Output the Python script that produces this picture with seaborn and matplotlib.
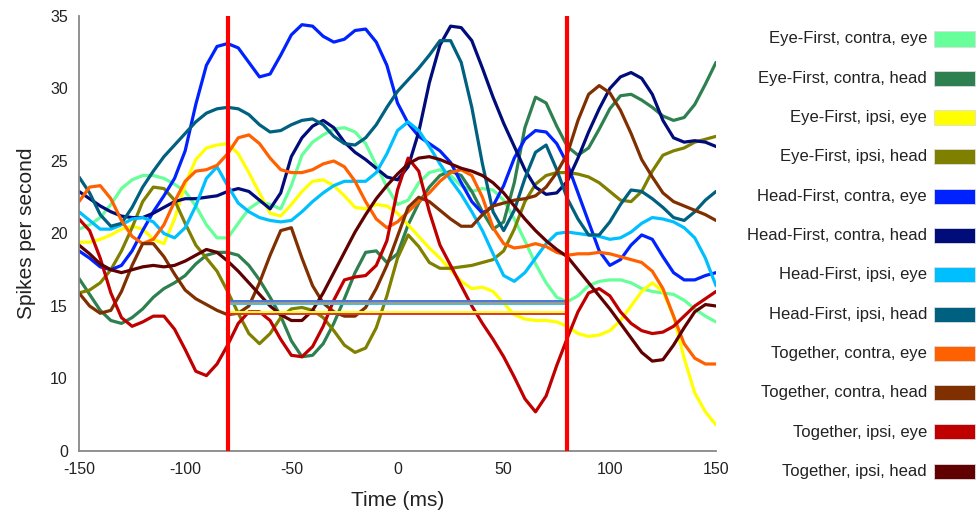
import numpy as np
import pandas as pd
import matplotlib
matplotlib.use("Agg")
import matplotlib.pyplot as plt
import matplotlib.patches as mpatches
import seaborn as sns

# ---------------- data ----------------
time_ms = list(range(-150, 151, 5))

series_names = [
    "Eye-First, contra, eye", "Eye-First, contra, head",
    "Eye-First, ipsi, eye", "Eye-First, ipsi, head",
    "Head-First, contra, eye", "Head-First, contra, head",
    "Head-First, ipsi, eye", "Head-First, ipsi, head",
    "Together, contra, eye", "Together, contra, head",
    "Together, ipsi, eye", "Together, ipsi, head",
]
series_colors = [
    "#66FF99", "#2E8050", "#FFFF00", "#808000",
    "#0022FF", "#000C7A", "#00BFFF", "#006080",
    "#FF6000", "#803000", "#C00000", "#600000",
]

ef_contra_eye = [20.3, 20.6, 21.1, 22.0, 23.1, 23.7, 24.0, 24.0, 23.8, 23.4, 22.9, 21.9, 20.6, 19.7, 19.7,
                 20.7, 21.7, 22.2, 22.0, 21.7, 23.3, 25.4, 26.3, 26.8, 27.2, 27.3, 27.0, 26.2, 24.7, 23.2,
                 22.0, 22.3, 23.5, 24.2, 24.4, 24.0, 23.3, 22.9, 23.1, 23.0, 22.3, 21.0, 19.5, 17.9, 16.6,
                 15.6, 15.3, 15.7, 16.4, 16.7, 16.8, 16.8, 16.6, 16.2, 16.0, 15.9, 15.8, 15.4, 14.8, 14.3, 13.9]
ef_contra_head = [16.9, 15.8, 14.7, 14.0, 13.8, 14.2, 14.8, 15.6, 16.2, 16.6, 17.1, 17.9, 18.5, 18.7, 18.7,
                  18.5, 17.8, 16.8, 15.6, 14.3, 12.6, 11.5, 11.6, 12.4, 13.8, 15.5, 17.3, 18.7, 18.8, 18.0,
                  18.6, 20.6, 22.1, 23.2, 24.0, 24.3, 24.0, 22.9, 21.5, 20.3, 20.8, 23.5, 27.3, 29.4, 29.0,
                  27.4, 26.0, 25.4, 25.9, 27.2, 28.6, 29.5, 29.6, 29.2, 28.7, 28.1, 27.8, 28.0, 28.9, 30.3, 31.8]
ef_ipsi_eye = [19.4, 19.4, 19.6, 19.9, 20.3, 20.5, 20.3, 19.6, 19.3, 21.0, 23.4, 25.1, 25.9, 26.1, 26.2,
               25.5, 24.2, 22.8, 21.4, 21.2, 22.0, 22.9, 23.6, 23.7, 23.3, 22.6, 21.8, 21.7, 22.0, 21.9,
               21.4, 20.6, 19.8, 19.0, 18.3, 17.5, 16.7, 16.2, 16.3, 16.0, 15.2, 14.4, 14.1, 14.0, 14.0,
               13.9, 13.6, 13.1, 12.9, 13.0, 13.3, 14.0, 15.0, 16.0, 16.6, 16.0, 14.3, 11.4, 9.0, 7.7, 6.8]
ef_ipsi_head = [15.9, 16.1, 16.6, 17.5, 18.8, 20.4, 22.2, 23.2, 23.1, 22.3, 20.7, 19.2, 18.3, 17.4, 16.0,
                14.5, 13.1, 12.4, 13.1, 14.2, 14.8, 14.9, 14.7, 14.2, 13.3, 12.3, 11.8, 12.1, 13.5, 15.7,
                18.3, 19.9, 19.1, 18.0, 17.6, 17.6, 17.7, 17.8, 18.0, 18.2, 18.8, 20.3, 22.2, 23.4, 24.0,
                24.2, 24.2, 24.1, 23.9, 23.5, 22.9, 22.3, 22.2, 22.9, 24.3, 25.4, 25.7, 25.9, 26.3, 26.5, 26.7]
hf_contra_eye = [18.8, 18.3, 17.7, 17.5, 17.8, 18.8, 20.2, 21.5, 22.6, 23.8, 25.7, 28.9, 31.6, 32.9, 33.1,
                 32.8, 31.8, 30.8, 31.0, 32.3, 33.7, 34.4, 34.3, 33.6, 33.2, 33.4, 34.0, 34.1, 33.2, 31.6,
                 29.0, 27.6, 26.7, 26.2, 25.7, 24.9, 23.5, 22.2, 21.4, 21.9, 23.3, 25.2, 26.5, 27.1, 27.0,
                 26.2, 24.8, 22.8, 20.8, 18.8, 17.8, 18.2, 19.2, 19.9, 19.6, 18.4, 17.3, 16.8, 16.8, 17.1, 17.3]
hf_contra_head = [22.9, 22.4, 21.9, 21.5, 21.2, 21.1, 21.1, 21.4, 21.8, 22.2, 22.4, 22.4, 22.5, 22.6, 22.9,
                  23.1, 22.9, 22.3, 21.7, 22.8, 25.3, 26.6, 27.4, 27.8, 27.3, 26.3, 25.6, 25.1, 24.5, 23.9,
                  23.7, 24.6, 27.0, 30.4, 33.0, 34.3, 34.2, 33.3, 31.4, 29.4, 27.6, 26.0, 24.4, 23.2, 22.7,
                  22.8, 23.6, 25.2, 27.0, 28.6, 30.0, 30.8, 31.1, 30.7, 29.6, 27.8, 26.6, 26.3, 26.4, 26.3, 26.0]
hf_ipsi_eye = [21.5, 20.9, 20.3, 20.3, 20.6, 21.0, 21.1, 20.8, 20.0, 19.7, 20.4, 21.9, 23.8, 24.6, 23.3,
               22.1, 21.5, 21.1, 20.9, 20.8, 20.9, 21.5, 22.2, 22.8, 23.3, 23.6, 23.6, 23.6, 24.2, 25.5,
               27.1, 27.7, 27.1, 26.0, 24.8, 23.7, 22.7, 21.5, 20.2, 18.6, 17.1, 16.7, 17.3, 18.3, 19.3,
               20.0, 20.1, 20.0, 19.9, 19.8, 19.6, 19.7, 20.1, 20.7, 21.1, 21.0, 20.8, 20.4, 19.7, 18.3, 16.4]
hf_ipsi_head = [23.9, 22.8, 21.3, 20.5, 20.7, 21.8, 23.2, 24.3, 25.3, 26.1, 26.9, 27.7, 28.3, 28.6, 28.7,
                28.6, 28.2, 27.5, 27.0, 27.1, 27.5, 27.8, 27.9, 27.5, 26.7, 26.2, 26.1, 26.6, 27.5, 28.7,
                29.8, 30.6, 31.4, 32.3, 33.3, 33.3, 31.8, 28.7, 24.8, 21.5, 20.2, 21.6, 23.8, 25.6, 26.1,
                24.4, 22.4, 21.0, 19.9, 19.9, 20.8, 22.0, 23.0, 22.9, 22.4, 21.8, 21.1, 20.9, 21.5, 22.3, 22.9]
tg_contra_eye = [22.2, 23.2, 23.3, 22.4, 20.9, 19.8, 19.3, 19.6, 20.6, 22.2, 23.6, 24.3, 24.4, 24.7, 25.5,
                 26.6, 26.8, 26.2, 25.2, 24.4, 24.2, 24.2, 24.4, 24.8, 25.0, 24.6, 23.6, 22.2, 21.0, 20.4,
                 20.8, 21.5, 22.2, 22.8, 23.6, 24.2, 24.4, 24.0, 22.5, 20.4, 19.3, 19.0, 19.1, 19.3, 19.1,
                 18.7, 18.5, 18.6, 18.6, 18.7, 18.6, 18.4, 18.2, 18.0, 17.4, 16.2, 14.3, 12.4, 11.4, 11.0, 11.0]
tg_contra_head = [15.9, 15.0, 14.5, 14.7, 16.0, 17.8, 19.3, 19.3, 18.4, 17.2, 16.1, 15.5, 15.1, 14.7, 14.4,
                  14.5, 15.0, 16.6, 18.5, 20.2, 20.4, 18.3, 16.4, 15.2, 14.6, 14.3, 14.3, 14.9, 16.2, 17.8,
                  19.8, 21.8, 22.5, 22.2, 21.6, 21.0, 20.5, 20.5, 21.3, 21.9, 22.1, 22.3, 22.4, 22.6, 23.2,
                  24.2, 25.5, 27.8, 29.6, 30.2, 29.7, 28.5, 26.9, 25.1, 23.9, 22.8, 22.2, 21.9, 21.6, 21.3, 20.9]
tg_ipsi_eye = [21.0, 20.2, 18.3, 15.9, 14.2, 13.6, 13.9, 14.3, 14.3, 13.4, 12.0, 10.5, 10.2, 11.0, 12.3,
               13.8, 14.6, 14.6, 14.0, 12.7, 11.6, 11.5, 12.2, 13.6, 15.4, 16.8, 17.0, 17.1, 17.8, 19.5,
               23.0, 25.2, 24.3, 21.5, 19.2, 17.8, 16.4, 15.0, 13.8, 12.7, 11.5, 10.1, 8.6, 7.7, 8.8,
               10.9, 12.8, 14.6, 15.9, 16.2, 15.7, 14.6, 13.8, 13.3, 13.1, 13.2, 13.6, 14.3, 15.0, 15.5, 16.0]
tg_ipsi_head = [19.2, 18.6, 17.9, 17.5, 17.3, 17.5, 17.7, 17.8, 17.7, 17.8, 18.1, 18.5, 18.9, 18.7, 18.1,
                17.4, 16.6, 15.8, 15.0, 14.4, 14.0, 14.0, 14.7, 15.9, 17.3, 18.7, 20.1, 21.3, 22.4, 23.3,
                24.1, 24.8, 25.2, 25.3, 25.1, 24.8, 24.5, 24.3, 24.0, 23.5, 22.8, 21.9, 21.0, 20.2, 19.5,
                18.9, 18.4, 17.5, 16.6, 15.7, 14.8, 13.8, 12.8, 11.8, 11.2, 11.3, 12.3, 13.5, 14.6, 15.1, 15.0]

series_values = [ef_contra_eye, ef_contra_head, ef_ipsi_eye, ef_ipsi_head,
                 hf_contra_eye, hf_contra_head, hf_ipsi_eye, hf_ipsi_head,
                 tg_contra_eye, tg_contra_head, tg_ipsi_eye, tg_ipsi_head]

# baseline segments drawn over the analysis window
window_edges = [-80, 80]
baseline_values = [15.34, 15.21, 15.12, 14.57, 14.43]
baseline_colors = ["#4a78d8", "#e8803a", "#3cc0e8", "#ffff20", "#d03a3a"]

# axis tick labels (bottom tick is labelled "0" in the original)
y_tick_pos = [5, 10, 15, 20, 25, 30, 35]
y_tick_labels = ["0", "10", "15", "20", "25", "30", "35"]
x_ticks = [-150, -100, -50, 0, 50, 100, 150]

# ---------------- plotting ----------------
sns.set_theme(style="white")
plt.rcParams["font.family"] = ["Liberation Sans", "DejaVu Sans"]

rows = []
for name, vals in zip(series_names, series_values):
    for t, v in zip(time_ms, vals):
        rows.append({"time": t, "rate": v, "series": name})
df = pd.DataFrame(rows)

fig = plt.figure(figsize=(9.77, 5.16), dpi=100)
ax = fig.add_axes([79 / 977, 65 / 516, 637 / 977, 435 / 516])

sns.lineplot(data=df, x="time", y="rate", hue="series", hue_order=series_names,
             palette=dict(zip(series_names, series_colors)), estimator=None,
             linewidth=2.3, legend=False, ax=ax, zorder=2)
for ln in ax.get_lines():
    ln.set_solid_joinstyle("round")
    ln.set_solid_capstyle("round")

for v, c in zip(baseline_values, baseline_colors):
    ax.plot(window_edges, [v, v], color=c, lw=1.4, zorder=3)

for e in window_edges:
    ax.axvline(e, color="#ff0000", lw=3, zorder=4)

ax.set_xlim(-150, 150)
ax.set_ylim(5, 35)
ax.set_xticks(x_ticks)
ax.set_xticklabels([str(t) for t in x_ticks])
ax.set_yticks(y_tick_pos)
ax.set_yticklabels(y_tick_labels)

for s in ["top", "right"]:
    ax.spines[s].set_visible(False)
for s in ["left", "bottom"]:
    ax.spines[s].set_color("#888888")
    ax.spines[s].set_linewidth(1.3)
ax.tick_params(axis="both", direction="in", length=4, width=1.0, color="#888888",
               labelsize=11.5, labelcolor="#222222", pad=8)
ax.set_xlabel("Time (ms)", fontsize=15, color="#222222", labelpad=10)
ax.set_ylabel("Spikes per second", fontsize=15, color="#222222", labelpad=10)

# legend: right-aligned labels with colour swatch to the right
row_h = 39.3 / 516
y0 = 1 - 39 / 516
for i, (name, col) in enumerate(zip(series_names, series_colors)):
    yc = y0 - i * row_h
    fig.text(927 / 977, yc, name, ha="right", va="center", fontsize=12, color="#222222")
    fig.patches.append(mpatches.Rectangle((934 / 977, yc - 7.5 / 516), 41 / 977, 15 / 516,
                                          transform=fig.transFigure, facecolor=col,
                                          edgecolor="#dddddd", lw=0.6))

fig.savefig("out.png", dpi=100, facecolor="white")
